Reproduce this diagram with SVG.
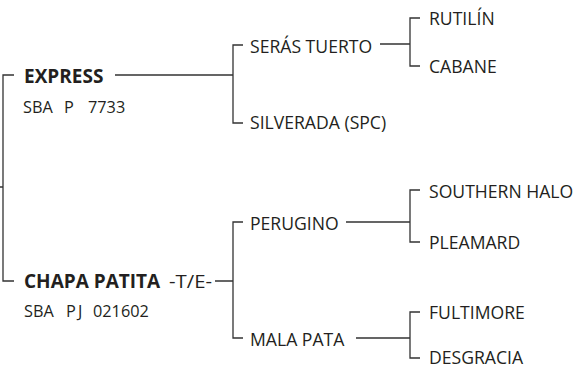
<svg xmlns="http://www.w3.org/2000/svg" width="576" height="366" viewBox="0 0 576 366">
<style>
.c{fill:none;stroke:#333;stroke-width:1.3}
.t{font-family:"Open Sans","Noto Sans",sans-serif;font-size:17.6px;fill:#231f20}
.b{font-weight:bold;font-size:19px}
.s{font-size:16.3px}
</style>
<rect width="576" height="366" fill="#fff"/>
<g id="connectors" class="c">
<path d="M0,187H3M14,75H3V281H14"/>
<path d="M115,75H233M243,45H233V123H243"/>
<path d="M380,44H410M420,18H410V66H420"/>
<path d="M215,281H233M243,222H233V338H243"/>
<path d="M346,222H410M420,190H410V242H420"/>
<path d="M356,338H410M420,312H410V358H420"/>
</g>
<g id="express"><text class="t b" x="24" y="83">EXPRESS</text><text class="t s" y="113"><tspan x="23">SBA</tspan><tspan x="64">P</tspan><tspan x="88">7733</tspan></text></g>
<g id="chapa"><text class="t" x="24" y="288"><tspan class="b">CHAPA PATITA</tspan><tspan x="169" textLength="43" lengthAdjust="spacingAndGlyphs">-T/E-</tspan></text><text class="t s" y="317"><tspan x="24">SBA</tspan><tspan x="66">P</tspan><tspan x="78">J</tspan><tspan x="93">021602</tspan></text></g>
<g id="seras"><text class="t" x="250" y="52.5">SERÁS TUERTO</text></g>
<g id="silverada"><text class="t" x="250" y="129">SILVERADA (SPC)</text></g>
<g id="perugino"><text class="t" x="250" y="229.5">PERUGINO</text></g>
<g id="malapata"><text class="t" x="250" y="346">MALA PATA</text></g>
<g id="rutilin"><text class="t" x="429" y="24.5">RUTILÍN</text></g>
<g id="cabane"><text class="t" x="429" y="72.5">CABANE</text></g>
<g id="southernhalo"><text class="t" x="429" y="197.5">SOUTHERN HALO</text></g>
<g id="pleamard"><text class="t" x="429" y="249">PLEAMARD</text></g>
<g id="fultimore"><text class="t" x="429" y="319">FULTIMORE</text></g>
<g id="desgracia"><text class="t" x="429" y="363.5">DESGRACIA</text></g>
</svg>
